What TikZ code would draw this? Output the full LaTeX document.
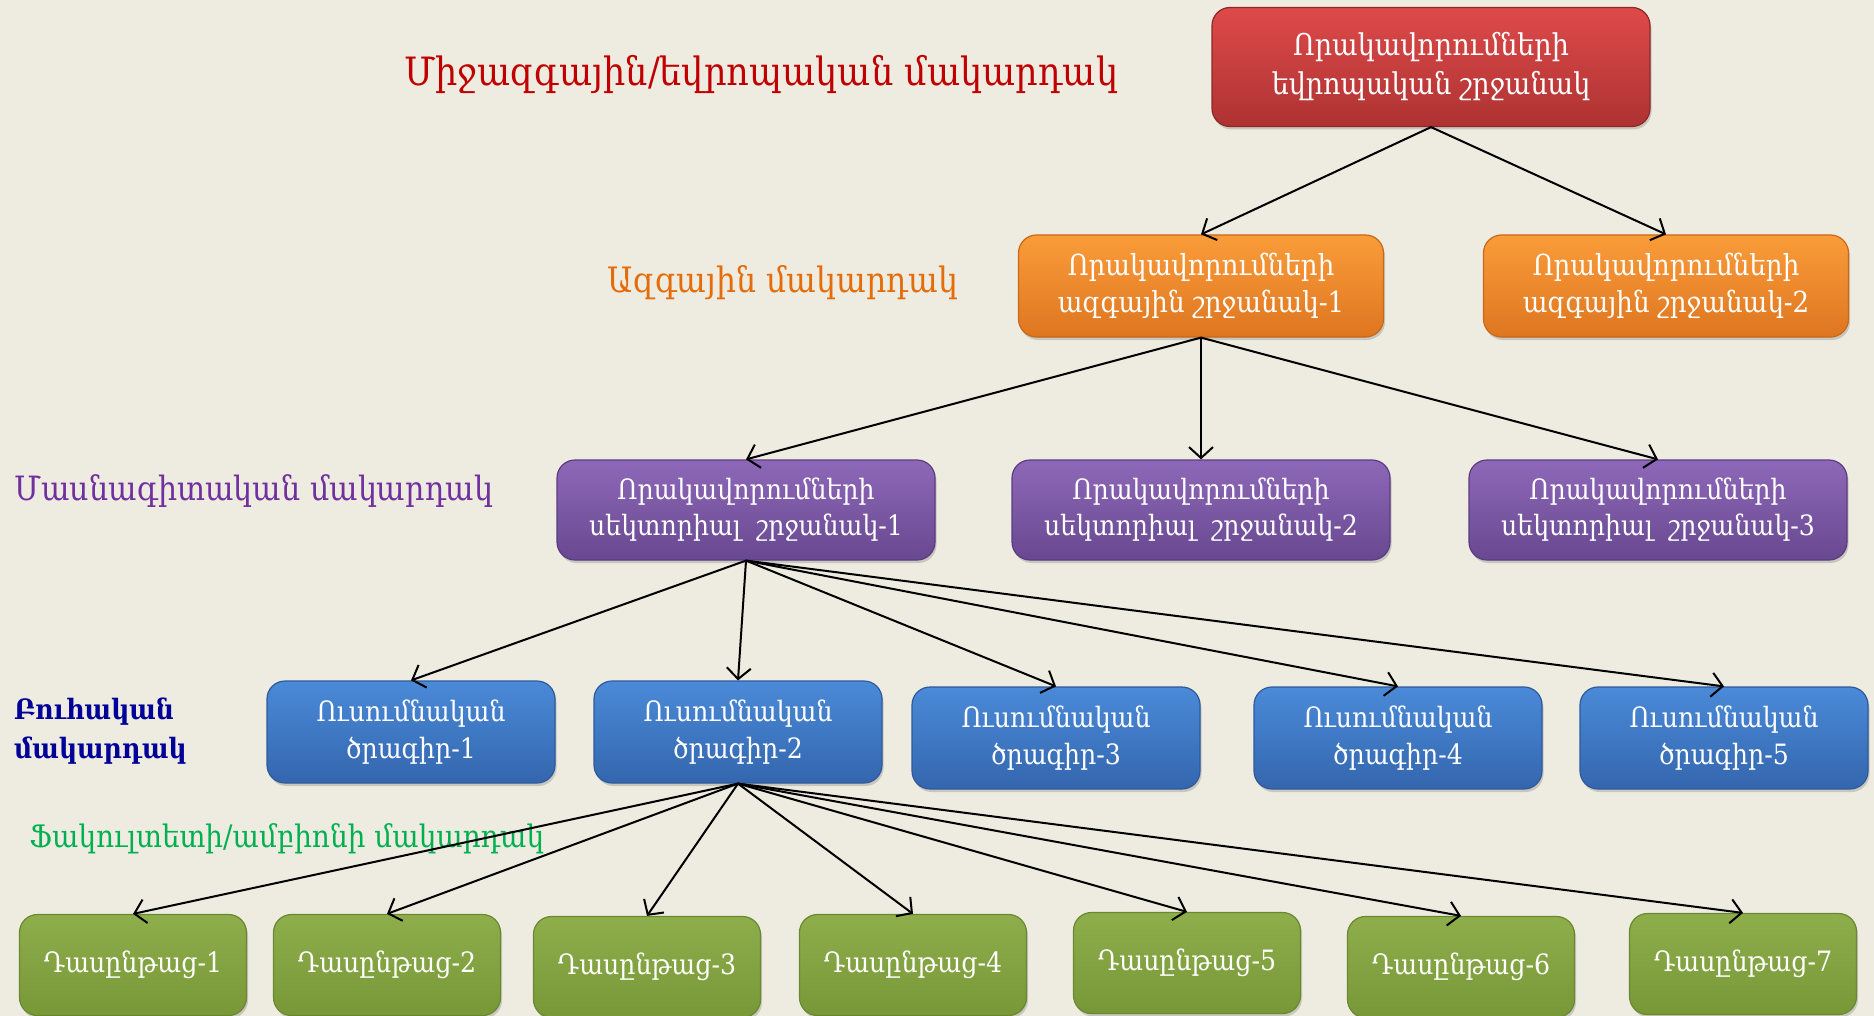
\documentclass[tikz,border=0pt]{standalone}
\usepackage{fontspec}
\setmainfont{DejaVu Serif Condensed}
\usetikzlibrary{arrows.meta,shadows}
\definecolor{bg}{HTML}{EEECE1}
\definecolor{redT}{HTML}{DE4A4A}\definecolor{redB}{HTML}{AE3232}\definecolor{redD}{HTML}{8E2828}
\definecolor{orT}{HTML}{FA9C3A}\definecolor{orB}{HTML}{DE7620}\definecolor{orD}{HTML}{C86818}
\definecolor{puT}{HTML}{8E68B8}\definecolor{puB}{HTML}{684890}\definecolor{puD}{HTML}{5A3C80}
\definecolor{blT}{HTML}{4A8AD8}\definecolor{blB}{HTML}{3466AE}\definecolor{blD}{HTML}{2E5A9A}
\definecolor{grT}{HTML}{8EAE4C}\definecolor{grB}{HTML}{789838}\definecolor{grD}{HTML}{6A8830}
\definecolor{labRed}{HTML}{C00000}
\definecolor{labOr}{HTML}{E46C0A}
\definecolor{labPu}{HTML}{7030A0}
\definecolor{labBl}{HTML}{000099}
\definecolor{labGr}{HTML}{00B050}
\tikzset{
  boxbase/.style={rounded corners=18pt, text=white, align=center, inner sep=0pt,
    line width=1.2pt, drop shadow={opacity=0.35, shadow xshift=1.5pt, shadow yshift=-3pt}},
  redbox/.style={boxbase, draw=redD, top color=redT, bottom color=redB,
    minimum width=438pt, minimum height=119pt, font=\fontsize{30}{39}\selectfont},
  orbox/.style={boxbase, draw=orD, top color=orT, bottom color=orB,
    minimum width=365pt, minimum height=102pt, font=\fontsize{29}{37}\selectfont},
  pubox/.style={boxbase, draw=puD, top color=puT, bottom color=puB,
    minimum width=378pt, minimum height=100pt, font=\fontsize{28}{36}\selectfont},
  blbox/.style={boxbase, draw=blD, top color=blT, bottom color=blB,
    minimum width=288pt, minimum height=102pt, font=\fontsize{28}{37}\selectfont},
  grbox/.style={boxbase, draw=grD, top color=grT, bottom color=grB,
    minimum width=227pt, minimum height=101pt, font=\fontsize{28}{36}\selectfont},
  conn/.style={line width=2pt, -{Straight Barb[length=11pt, width=24pt, line width=2pt]}},
  lab/.style={inner sep=0pt}
}
\begin{document}
\begin{tikzpicture}[x=1pt, y=-1pt]
\fill[bg] (0,0) rectangle (1874,1016);
\useasboundingbox (0,0) rectangle (1874,1016);

% level labels
\node[lab, text=labRed, font=\fontsize{39}{46}\selectfont] (l1) at (761,74) {Միջազգային/եվրոպական մակարդակ};
\node[lab, text=labOr, font=\fontsize{35}{42}\selectfont] (l2) at (783,283) {Ազգային մակարդակ};
\node[lab, text=labPu, font=\fontsize{33.5}{40}\selectfont, anchor=west] (l3) at (14,491) {Մասնագիտական մակարդակ};
\node[lab, text=labBl, font=\bfseries\fontsize{28}{39}\selectfont, anchor=west, align=left] (l4) at (14,731) {Բուհական\\մակարդակ};
\node[lab, text=labGr, font=\fontsize{31}{38}\selectfont, anchor=west] (l5) at (29,839) {Ֆակուլտետի/ամբիոնի մակարդակ};

% boxes
\node[redbox] (eu) at (1431,67) {Որակավորումների\\եվրոպական շրջանակ};
\node[orbox] (n1) at (1201,286) {Որակավորումների\\ազգային շրջանակ-1};
\node[orbox] (n2) at (1666,286) {Որակավորումների\\ազգային շրջանակ-2};
\node[pubox] (s1) at (746,510) {Որակավորումների\\սեկտորիալ\ \ շրջանակ-1};
\node[pubox] (s2) at (1201,510) {Որակավորումների\\սեկտորիալ\ \ շրջանակ-2};
\node[pubox] (s3) at (1658,510) {Որակավորումների\\սեկտորիալ\ \ շրջանակ-3};
\node[blbox] (b1) at (411,732) {Ուսումնական\\ծրագիր-1};
\node[blbox] (b2) at (738,732) {Ուսումնական\\ծրագիր-2};
\node[blbox] (b3) at (1056,738) {Ուսումնական\\ծրագիր-3};
\node[blbox] (b4) at (1398,738) {Ուսումնական\\ծրագիր-4};
\node[blbox] (b5) at (1724,738) {Ուսումնական\\ծրագիր-5};
\node[grbox] (g1) at (133,965) {Դասընթաց-1};
\node[grbox] (g2) at (387,965) {Դասընթաց-2};
\node[grbox] (g3) at (647,967) {Դասընթաց-3};
\node[grbox] (g4) at (913,965) {Դասընթաց-4};
\node[grbox] (g5) at (1187,963) {Դասընթաց-5};
\node[grbox] (g6) at (1461,967) {Դասընթաց-6};
\node[grbox] (g7) at (1743,964) {Դասընթաց-7};

% connectors
\draw[conn] (eu.south) -- (n1.north);
\draw[conn] (eu.south) -- (n2.north);
\foreach \t in {s1,s2,s3} \draw[conn] (n1.south) -- (\t.north);
\foreach \t in {b1,b2,b3,b4,b5} \draw[conn] (s1.south) -- (\t.north);
\foreach \t in {g1,g2,g3,g4,g5,g6,g7} \draw[conn] (b2.south) -- (\t.north);
\end{tikzpicture}
\end{document}
